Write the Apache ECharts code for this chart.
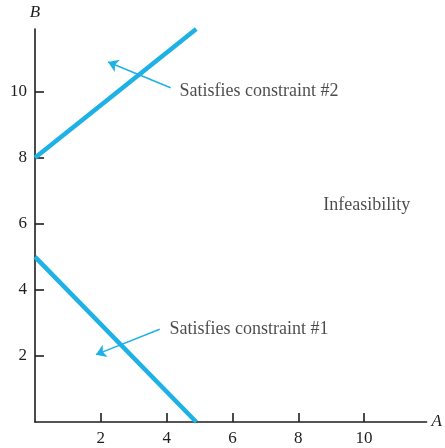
<!DOCTYPE html>
<html>
<head>
    <meta charset="UTF-8">
    <title>Infeasibility</title>
    <script src="https://cdn.jsdelivr.net/npm/echarts@6/dist/echarts.min.js"></script>
    <style>
        html, body { margin: 0; padding: 0; background: #fff; }
        #chart { width: 445px; height: 448px; }
    </style>
</head>
<body>
    <div id="chart"></div>
<script type="text/javascript">
    // 约束边界线
    var constraint2 = [[0, 8], [4.9, 11.9]];
    var constraint1 = [[0, 5], [4.9, 0]];
    // 指示箭头 (起点 -> 终点)
    var arrow2 = [[4.12, 10.12], [2.22, 10.9]];
    var arrow1 = [[3.79, 2.81], [1.85, 2.04]];
    // 文字标注
    var notes = [
        { text: 'Satisfies constraint #2', pos: [4.39, 10.02] },
        { text: 'Satisfies constraint #1', pos: [4.09, 2.81] },
        { text: 'Infeasibility', pos: [8.76, 6.57] }
    ];
    var tickValues = [2, 4, 6, 8, 10];

    var serif = '"Liberation Serif", "DejaVu Serif", serif';
    var blue = '#1DB1E6';
    var ink = '#1e1e1e';

    var myChart = echarts.init(document.getElementById('chart'));

    function axis(name, gap) {
        return {
            type: 'value',
            min: 0,
            max: 11.9,
            name: name,
            nameLocation: 'end',
            nameGap: gap,
            nameTextStyle: { fontFamily: serif, fontStyle: 'italic', fontSize: 17, color: ink },
            splitLine: { show: false },
            axisLine: { show: true, lineStyle: { color: ink, width: 1.6 } },
            axisTick: { show: true, inside: true, length: 9, customValues: tickValues,
                        lineStyle: { color: ink, width: 1.6 } },
            axisLabel: { customValues: tickValues, fontFamily: serif, fontSize: 17, color: ink, margin: 8 }
        };
    }

    var xAxis = axis('A', 5);
    var yAxis = axis('B', 8);

    var option = {
        backgroundColor: '#fff',
        animation: false,
        grid: { left: 35, top: 29, right: 18, bottom: 26, containLabel: false },
        xAxis: xAxis,
        yAxis: yAxis,
        series: [
            {
                type: 'line', data: constraint2, symbol: 'none',
                lineStyle: { color: blue, width: 4.5 }, z: 3
            },
            {
                type: 'line', data: constraint1, symbol: 'none',
                lineStyle: { color: blue, width: 4.5 }, z: 3
            },
            {
                type: 'lines', coordinateSystem: 'cartesian2d',
                symbol: ['none', 'arrow'], symbolSize: 10,
                lineStyle: { color: blue, width: 1.5, opacity: 1 },
                data: [{ coords: arrow2 }, { coords: arrow1 }], z: 4
            },
            {
                type: 'scatter', symbolSize: 0,
                data: notes.map(function (n) { return { value: n.pos, name: n.text }; }),
                label: {
                    show: true, position: 'right', distance: 0,
                    formatter: '{b}', fontFamily: serif, fontSize: 18, color: ink
                }
            }
        ]
    };
    myChart.setOption(option);
</script>
</body>
</html>
